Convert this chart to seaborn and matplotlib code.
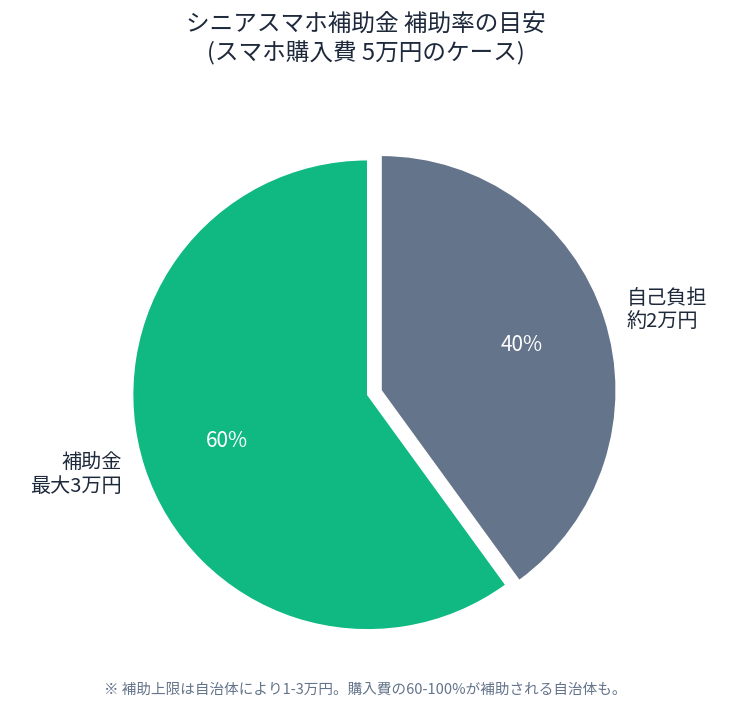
import matplotlib
matplotlib.use("Agg")
import matplotlib.pyplot as plt
import seaborn as sns

sns.set_theme(style="white")
plt.rcParams['font.family'] = ['Noto Sans CJK JP', 'DejaVu Sans']

labels = ['自己負担\n約2万円', '補助金\n最大3万円']
values = [40, 60]
colors = ['#64748b', '#10b981']
explode = [0.06, 0]

fig = plt.figure(figsize=(7.31, 7.10), dpi=100)
ax = fig.add_axes([0.503 - 0.3215, 0.444 - 0.331, 0.643, 0.662])
wedges, texts, autotexts = ax.pie(
    values, labels=labels, colors=colors, explode=explode,
    startangle=90, counterclock=False, autopct='%d%%',
    pctdistance=0.63, labeldistance=1.1,
    textprops={'fontsize': 14.5, 'color': '#1e293b'},
)
for t in autotexts:
    t.set_color('white')
    t.set_fontsize(15)
ax.set_aspect('equal')
ax.set_xlim(-1, 1)
ax.set_ylim(-1, 1)
ax.axis('off')

fig.text(0.5, 0.945, 'シニアスマホ補助金 補助率の目安\n(スマホ購入費 5万円のケース)',
         ha='center', va='center', fontsize=17, color='#1e293b', linespacing=1.25)
fig.text(0.5, 0.028, '※ 補助上限は自治体により1-3万円。購入費の60-100%が補助される自治体も。',
         ha='center', va='center', fontsize=10.5, color='#64748b')

fig.savefig('out.png', dpi=100, facecolor='white')
